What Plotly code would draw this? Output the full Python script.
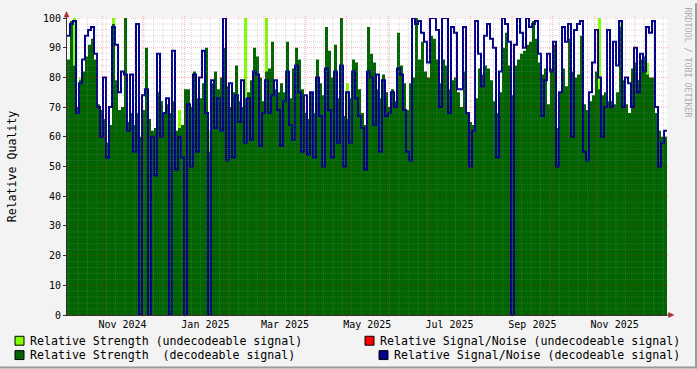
import plotly.graph_objects as go
import pandas as pd

FONT = "DejaVu Sans Mono"

# ---- data (one sample per ~53 h) ----
strength_decodeable = [
    86, 99, 84, 70, 79, 82, 87, 91, 93, 86, 71, 69, 66, 58, 64, 98, 79, 69, 70, 100,
    65, 68, 64, 68, 60, 69, 90, 66, 62, 63, 75, 72, 68, 71, 68, 72, 62, 63, 64, 76,
    76, 70, 82, 73, 73, 78, 90, 55, 78, 82, 76, 80, 90, 77, 70, 75, 84, 72, 70, 73,
    75, 79, 90, 87, 80, 72, 82, 83, 92, 76, 75, 78, 75, 92, 73, 83, 90, 86, 76, 68,
    66, 75, 68, 86, 78, 74, 97, 89, 80, 91, 73, 100, 67, 66, 73, 86, 85, 76, 68, 64,
    97, 88, 85, 76, 73, 81, 75, 70, 76, 72, 95, 84, 78, 69, 78, 80, 100, 86, 92, 82,
    80, 94, 93, 86, 78, 86, 84, 76, 79, 80, 75, 70, 82, 68, 65, 64, 73, 83, 81, 84,
    83, 79, 72, 68, 75, 90, 95, 84, 74, 84, 86, 88, 89, 91, 92, 99, 93, 85, 81, 83,
    71, 83, 91, 63, 75, 83, 77, 93, 82, 80, 81, 94, 71, 69, 72, 74, 82, 76, 74, 75,
    72, 72, 71, 75, 97, 79, 71, 68, 83, 85, 79, 86, 87, 81, 80, 80, 68, 62, 60, 60,
]
snr_decodeable = [
    94, 98, 99, 68, 78, 86, 94, 96, 97, 88, 70, 60, 80, 53, 70, 97, 91, 75, 82, 81,
    62, 81, 55, 98, 0, 74, 76, 0, 60, 47, 88, 60, 68, 73, 0, 89, 49, 60, 53, 0,
    71, 50, 81, 55, 80, 89, 68, 0, 79, 63, 73, 62, 100, 52, 78, 53, 74, 65, 79, 58,
    73, 59, 82, 81, 57, 68, 79, 68, 74, 79, 69, 57, 72, 82, 64, 59, 84, 75, 55, 74,
    54, 75, 53, 80, 67, 50, 83, 69, 53, 82, 58, 84, 50, 75, 58, 82, 73, 67, 63, 49,
    82, 80, 64, 81, 55, 79, 67, 68, 75, 70, 83, 81, 69, 55, 52, 100, 98, 99, 95, 92,
    85, 100, 100, 96, 70, 100, 100, 68, 97, 95, 76, 76, 97, 68, 50, 62, 99, 88, 77, 94,
    98, 93, 90, 53, 82, 100, 98, 92, 0, 91, 100, 95, 90, 100, 97, 98, 99, 88, 67, 79,
    88, 82, 92, 50, 75, 97, 92, 98, 60, 96, 98, 99, 55, 52, 75, 85, 96, 80, 60, 70,
    96, 70, 92, 84, 99, 70, 80, 78, 70, 90, 75, 88, 82, 97, 95, 99, 70, 50, 58, 62,
]
strength_undecodeable = [
    0, 0, 100, 0, 80, 0, 0, 0, 0, 0, 0, 0, 0, 0, 0, 100, 0, 0, 0, 0,
    0, 0, 0, 0, 0, 0, 0, 0, 0, 0, 0, 0, 0, 0, 0, 0, 0, 69, 0, 0,
    0, 0, 0, 0, 0, 0, 0, 62, 0, 0, 0, 0, 0, 0, 0, 0, 0, 0, 0, 100,
    0, 0, 0, 0, 0, 0, 100, 0, 0, 0, 0, 0, 0, 0, 0, 0, 0, 0, 0, 0,
    0, 0, 0, 0, 0, 0, 0, 0, 0, 0, 0, 0, 0, 78, 0, 0, 0, 0, 0, 0,
    0, 0, 0, 0, 0, 0, 0, 0, 0, 0, 0, 0, 0, 0, 0, 0, 0, 0, 0, 0,
    0, 0, 0, 0, 0, 0, 0, 0, 0, 0, 0, 0, 0, 0, 0, 0, 0, 0, 0, 0,
    0, 0, 0, 0, 0, 0, 0, 0, 0, 0, 0, 0, 0, 0, 0, 0, 0, 0, 0, 0,
    0, 0, 0, 0, 0, 0, 0, 0, 0, 0, 0, 0, 0, 0, 0, 0, 0, 100, 0, 0,
    0, 0, 0, 0, 99, 0, 0, 0, 0, 0, 0, 0, 0, 85, 0, 0, 0, 0, 0, 0,
]
sample_start = "2024-10-05 20:00"
sample_hours = 53.4

month_lines = ["2024-11-01", "2024-12-01", "2025-01-01", "2025-02-01", "2025-03-01",
               "2025-04-01", "2025-05-01", "2025-06-01", "2025-07-01", "2025-08-01",
               "2025-09-01", "2025-10-01", "2025-11-01", "2025-12-01"]
label_dates = ["2024-11-16", "2025-01-16 12:00", "2025-03-16 12:00", "2025-05-16 12:00",
               "2025-07-16 12:00", "2025-09-16", "2025-11-16"]
label_text = ["Nov 2024", "Jan 2025", "Mar 2025", "May 2025", "Jul 2025", "Sep 2025", "Nov 2025"]
y_ticks = [0, 10, 20, 30, 40, 50, 60, 70, 80, 90, 100]

C_LIGHT = "#7FFF00"
C_DARK = "#006400"
C_RED = "#FF0000"
C_BLUE = "#00008B"
MAJOR_GRID = "rgba(255,0,0,0.3)"
MINOR_GRID = "rgba(140,140,140,0.33)"

# ---- layout geometry ----
W, H = 697, 369
ML, MR, MT, MB = 67, 30, 15, 54
PW, PH = W - ML - MR, H - MT - MB


def px(xp):
    return (xp - ML) / PW


def py(yp):
    return (MT + PH - yp) / PH


start = pd.Timestamp(sample_start)
step = pd.Timedelta(hours=sample_hours)
times = [start + i * step for i in range(len(strength_decodeable) + 1)]


def ext(v):
    return list(v) + [v[-1]]


fig = go.Figure()
fig.add_trace(go.Scatter(x=times, y=ext(strength_undecodeable), mode="lines",
                         line=dict(shape="hv", width=0, color=C_LIGHT),
                         fill="tozeroy", fillcolor=C_LIGHT, hoverinfo="skip"))
fig.add_trace(go.Scatter(x=times, y=ext(strength_decodeable), mode="lines",
                         line=dict(shape="hv", width=0, color=C_DARK),
                         fill="tozeroy", fillcolor=C_DARK, hoverinfo="skip"))
fig.add_trace(go.Scatter(x=times, y=ext(snr_decodeable), mode="lines",
                         line=dict(shape="hv", width=2, color=C_BLUE), hoverinfo="skip"))
# carrier for the label axis
fig.add_trace(go.Scatter(x=[times[0]], y=[0], xaxis="x2", mode="markers",
                         marker=dict(opacity=0), hoverinfo="skip"))

shapes = []
# horizontal grid
for v in range(0, 101, 2):
    if v % 10 == 0:
        shapes.append(dict(type="line", xref="paper", yref="y", x0=-2 / PW, x1=1 + 2 / PW,
                           y0=v, y1=v, layer="above",
                           line=dict(color=MAJOR_GRID, width=1, dash="1px,1px")))
    else:
        shapes.append(dict(type="line", xref="paper", yref="y", x0=0, x1=1,
                           y0=v, y1=v, layer="above",
                           line=dict(color=MINOR_GRID, width=1, dash="1px,1px")))
# vertical grid
mset = set(pd.Timestamp(m) for m in month_lines)
for wk in pd.date_range("2024-10-07", "2025-12-22", freq="7D"):
    if wk in mset:
        continue
    shapes.append(dict(type="line", xref="x", yref="paper", x0=wk, x1=wk, y0=0, y1=1,
                       layer="above",
                       line=dict(color=MINOR_GRID, width=1, dash="1px,1px")))
for m in month_lines:
    shapes.append(dict(type="line", xref="x", yref="paper", x0=m, x1=m,
                       y0=-2 / PH, y1=1 + 2 / PH, layer="above",
                       line=dict(color=MAJOR_GRID, width=1, dash="1px,1px")))
# axis extensions and arrows
ARROW = "#A83030"
shapes.append(dict(type="line", xref="paper", yref="paper", x0=1, x1=px(669), y0=0, y1=0,
                   line=dict(color="#333333", width=1)))
shapes.append(dict(type="line", xref="paper", yref="paper", x0=px(66.5), x1=px(66.5),
                   y0=1, y1=py(12), line=dict(color="#333333", width=1)))
shapes.append(dict(type="path", xref="paper", yref="paper", fillcolor=ARROW,
                   line=dict(color=ARROW, width=0.5),
                   path=f"M {px(66.5)} {py(8.5)} L {px(64)} {py(14)} L {px(69)} {py(14)} Z"))
shapes.append(dict(type="path", xref="paper", yref="paper", fillcolor=ARROW,
                   line=dict(color=ARROW, width=0.5),
                   path=f"M {px(674)} {py(315)} L {px(668.5)} {py(312.5)} L {px(668.5)} {py(317.5)} Z"))
# outer shading border
shapes.append(dict(type="rect", xref="paper", yref="paper", x0=px(695), x1=px(697),
                   y0=py(369), y1=py(0), line=dict(width=0), fillcolor="#9A9A9A"))
shapes.append(dict(type="rect", xref="paper", yref="paper", x0=px(0), x1=px(697),
                   y0=py(369), y1=py(367), line=dict(width=0), fillcolor="#9A9A9A"))

# legend squares
legend_boxes = [(15, 336.5, C_LIGHT), (15, 351, C_DARK), (365, 336.5, C_RED), (379, 351, C_BLUE)]
for x0, y0, c in legend_boxes:
    shapes.append(dict(type="rect", xref="paper", yref="paper",
                       x0=px(x0), x1=px(x0 + 9), y0=py(y0 + 9), y1=py(y0),
                       fillcolor=c, line=dict(color="black", width=1)))

annotations = []
legend_texts = [(30, 341, "Relative Strength (undecodeable signal)"),
                (30, 355.5, "Relative Strength  (decodeable signal)"),
                (380, 341, "Relative Signal/Noise (undecodeable signal)"),
                (394, 355.5, "Relative Signal/Noise (decodeable signal)")]
for x0, yc, t in legend_texts:
    annotations.append(dict(xref="paper", yref="paper", x=px(x0), y=py(yc), text=t,
                            xanchor="left", yanchor="middle", showarrow=False,
                            borderpad=0, borderwidth=0,
                            font=dict(family=FONT, size=11.6, color="black")))
annotations.append(dict(xref="paper", yref="paper", x=px(688), y=py(60),
                        text="RRDTOOL / TOBI OETIKER", textangle=90, showarrow=False,
                        xanchor="center", yanchor="middle",
                        font=dict(family=FONT, size=8.3, color="#ABABAB")))

fig.update_layout(
    width=W, height=H, margin=dict(l=ML, r=MR, t=MT, b=MB, pad=0),
    paper_bgcolor="#F3F3F3", plot_bgcolor="white",
    showlegend=False, shapes=shapes, annotations=annotations,
    font=dict(family=FONT, size=10, color="black"),
    xaxis=dict(type="date", range=[times[0], times[-1]], showgrid=False, zeroline=False,
               showticklabels=False, showline=True, linecolor="#333333", linewidth=1,
               ticks=""),
    xaxis2=dict(type="date", overlaying="x", side="bottom", anchor="y",
                range=[times[0], times[-1]], showgrid=False, zeroline=False,
                tickmode="array", tickvals=label_dates, ticktext=label_text,
                ticks="", showline=False, ticklabelstandoff=2,
                tickfont=dict(family=FONT, size=10)),
    yaxis=dict(range=[0, 100], tickmode="array", tickvals=y_ticks, showgrid=False,
               zeroline=False, showline=True, linecolor="#333333", linewidth=1,
               ticks="outside", ticklen=3, tickcolor="#333333",
               tickfont=dict(family=FONT, size=10),
               title=dict(text="Relative Quality", standoff=23,
                          font=dict(family=FONT, size=11.6))),
)

fig.write_html("out.html")
